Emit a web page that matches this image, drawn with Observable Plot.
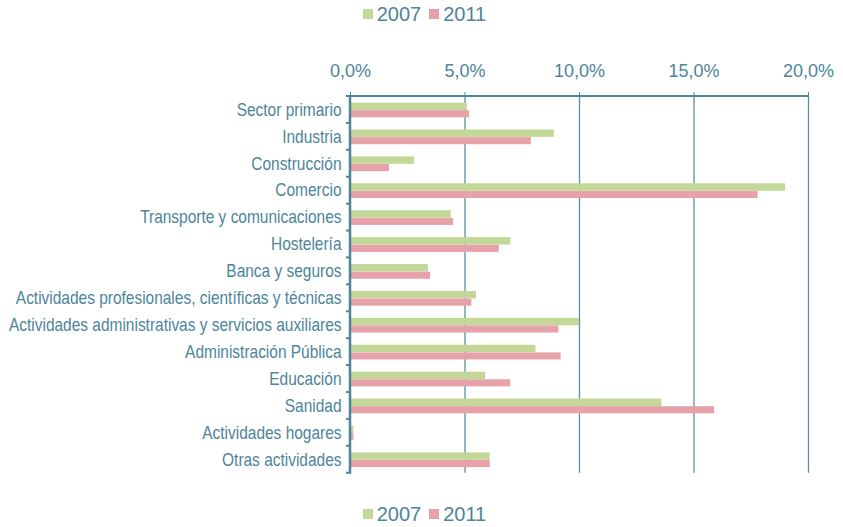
<!DOCTYPE html>
<html><head><meta charset="utf-8">
<script src="https://cdn.jsdelivr.net/npm/d3@7"></script>
<script src="https://cdn.jsdelivr.net/npm/@observablehq/plot@0.6"></script>
<style>
body{margin:0;background:#fff;width:843px;height:527px;overflow:hidden;font-family:"Liberation Sans",Arial,sans-serif;}
.legend{display:flex;justify-content:center;align-items:flex-start;color:#4d8599;font-size:20px;padding-left:6px;box-sizing:border-box;overflow:hidden}
.legend .item{display:flex;align-items:center;margin:0 4px;line-height:20px;height:20px}
.legend .sw{width:10px;height:10px;display:inline-block;margin-right:4px}
#chart svg{display:block}
</style></head><body>
<div id="top" class="legend" style="height:33px;padding-top:4px"></div>
<div id="chart"></div>
<div id="bottom" class="legend" style="height:34px;padding-top:11px"></div>
<script>
const categories = ["Sector primario","Industria","Construcción","Comercio","Transporte y comunicaciones","Hostelería","Banca y seguros","Actividades profesionales, científicas y técnicas","Actividades administrativas y servicios auxiliares","Administración Pública","Educación","Sanidad","Actividades hogares","Otras actividades"];
const v2007 = [5.1, 8.9, 2.8, 19.0, 4.4, 7.0, 3.4, 5.5, 10.0, 8.1, 5.9, 13.6, 0.15, 6.1];
const v2011 = [5.2, 7.9, 1.7, 17.8, 4.5, 6.5, 3.5, 5.3, 9.1, 9.2, 7.0, 15.9, 0.15, 6.1];
const years = ["2007","2011"];
const colors = ["#c3d898","#e7a1a8"];
const xTicks = [0,5,10,15,20];

const textColor = "#4d8599";
const gridColor = "#5b8fa1";
const rows2007 = categories.map((c,i)=>({cat:c, value:v2007[i]}));
const rows2011 = categories.map((c,i)=>({cat:c, value:v2011[i]}));
const fmt = d => d.toFixed(1).replace(".", ",") + "%";

function legend(el){
  years.forEach((y,i)=>{
    const it = document.createElement("div"); it.className="item";
    const sw = document.createElement("span"); sw.className="sw"; sw.style.background=colors[i];
    const t = document.createElement("span"); t.textContent=y;
    it.appendChild(sw); it.appendChild(t); el.appendChild(it);
  });
}
legend(document.getElementById("top"));
legend(document.getElementById("bottom"));

const axisLines = (index, scales, values, dimensions) => {
  const {x, y} = scales;
  const {marginTop, marginBottom, height} = dimensions;
  const bottom = height - marginBottom;
  const g = d3.create("svg:g");
  const x0 = x(0), x1 = x(xTicks[xTicks.length-1]);
  g.append("line").attr("x1", x0).attr("x2", x1+1).attr("y1", marginTop).attr("y2", marginTop)
    .attr("stroke", textColor).attr("stroke-width", 2);
  g.append("line").attr("x1", x0).attr("x2", x0).attr("y1", marginTop-1).attr("y2", bottom+1)
    .attr("stroke", textColor).attr("stroke-width", 2.5);
  const ys = categories.map(c => y(c)).concat([bottom]);
  ys.forEach(yy => g.append("line").attr("x1", x0-4).attr("x2", x0).attr("y1", yy).attr("y2", yy)
    .attr("stroke", textColor).attr("stroke-width", 2));
  return g.node();
};

const chart = Plot.plot({
  width: 843, height: 460,
  marginLeft: 350, marginRight: 35, marginTop: 63, marginBottom: 20.3,
  style: {fontFamily: "'Liberation Sans', Arial, sans-serif", color: textColor, background: "white", overflow: "visible"},
  x: {domain: [0, 20], axis: null},
  y: {domain: categories, padding: 0, round: false, axis: null},
  marks: [
    Plot.ruleX(xTicks.slice(1), {stroke: gridColor, strokeWidth: 1.3}),
    Plot.barX(rows2007, {x: "value", y: "cat", fill: colors[0], insetTop: 6.6, insetBottom: 12.9}),
    Plot.barX(rows2011, {x: "value", y: "cat", fill: colors[1], insetTop: 14.2, insetBottom: 5.6}),
    Plot.axisX({ticks: xTicks, anchor: "top", label: null, tickSize: 5, tickPadding: 15, tickFormat: fmt, fontSize: 18, stroke: textColor, fill: textColor}),
    Plot.axisY({anchor: "left", label: null, tickSize: 0, tickPadding: 9, fontSize: 18, fill: textColor}),
    axisLines
  ]
});
// condense the category labels horizontally (narrow typeface look)
d3.select(chart).selectAll('g[aria-label="y-axis tick label"] text').each(function(){
  const t = d3.select(this);
  const tr = t.attr("transform") || "";
  t.attr("transform", `${tr} scale(0.86,1)`);
});
document.getElementById("chart").appendChild(chart);
</script>
</body></html>
